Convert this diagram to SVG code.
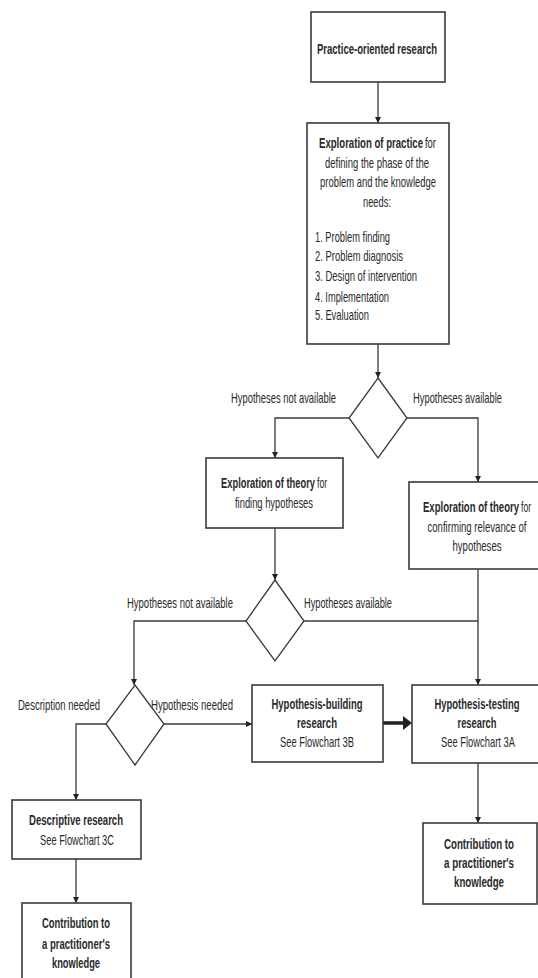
<svg xmlns="http://www.w3.org/2000/svg" width="538" height="978" viewBox="0 0 538 978">
<style>
.box{fill:#fff;stroke:#3a3a3a;stroke-width:1.6}
.dia{fill:#fff;stroke:#3a3a3a;stroke-width:1.3}
.ln{fill:none;stroke:#3a3a3a;stroke-width:1.3}
.thick{fill:none;stroke:#222;stroke-width:3.5}
text{font-family:"Liberation Sans",Arial,sans-serif;font-size:14.5px;fill:#2a2a2a}
.c{text-anchor:middle}
.b{font-weight:bold}
</style>
<defs>
<marker id="ah" viewBox="0 0 10 10" refX="10" refY="5" markerWidth="6" markerHeight="7" markerUnits="userSpaceOnUse" orient="auto"><path d="M0,0 L10,5 L0,10 z" fill="#222"/></marker>
</defs>
<g id="connectors">
<path class="ln" d="M378,82 V123" marker-end="url(#ah)"/>
<path class="ln" d="M378,344 V378" marker-end="url(#ah)"/>
<path class="ln" d="M349,418 H275 V458" marker-end="url(#ah)"/>
<path class="ln" d="M407,418 H478 V482" marker-end="url(#ah)"/>
<path class="ln" d="M275,528 V580" marker-end="url(#ah)"/>
<path class="ln" d="M478,569 V685" marker-end="url(#ah)"/>
<path class="ln" d="M303,621 H478"/>
<path class="ln" d="M246,621 H134 V685" marker-end="url(#ah)"/>
<path class="ln" d="M164,724 H252" marker-end="url(#ah)"/>
<path class="thick" d="M383,723 H405"/>
<path d="M403,716 L412,723 L403,730 z" fill="#222"/>
<path class="ln" d="M106,724 H76 V800" marker-end="url(#ah)"/>
<path class="ln" d="M76,859 V903" marker-end="url(#ah)"/>
<path class="ln" d="M478,763 V823" marker-end="url(#ah)"/>
<text x="231" y="403" textLength="105" lengthAdjust="spacingAndGlyphs">Hypotheses not available</text>
<text x="413" y="403" textLength="89" lengthAdjust="spacingAndGlyphs">Hypotheses available</text>
<text x="127" y="608" textLength="106" lengthAdjust="spacingAndGlyphs">Hypotheses not available</text>
<text x="304" y="608" textLength="88" lengthAdjust="spacingAndGlyphs">Hypotheses available</text>
<text x="18" y="710" textLength="82" lengthAdjust="spacingAndGlyphs">Description needed</text>
<text x="151" y="710" textLength="82" lengthAdjust="spacingAndGlyphs">Hypothesis needed</text>
</g>
<g id="start">
<rect class="box" x="311" y="12" width="134" height="70"/>
<text class="c b" x="377" y="54" textLength="120" lengthAdjust="spacingAndGlyphs">Practice-oriented research</text>
</g>
<g id="practice">
<rect class="box" x="307" y="123" width="142" height="221"/>
<text class="b" x="319" y="148" textLength="104" lengthAdjust="spacingAndGlyphs">Exploration of practice</text>
<text x="425" y="148" textLength="11" lengthAdjust="spacingAndGlyphs">for</text>
<text class="c" x="377" y="168" textLength="104" lengthAdjust="spacingAndGlyphs">defining the phase of the</text>
<text class="c" x="378" y="187" textLength="116" lengthAdjust="spacingAndGlyphs">problem and the knowledge</text>
<text class="c" x="377" y="207" textLength="28" lengthAdjust="spacingAndGlyphs">needs:</text>
<text x="315" y="242" textLength="75" lengthAdjust="spacingAndGlyphs">1. Problem finding</text>
<text x="315" y="261" textLength="88" lengthAdjust="spacingAndGlyphs">2. Problem diagnosis</text>
<text x="315" y="281" textLength="102" lengthAdjust="spacingAndGlyphs">3. Design of intervention</text>
<text x="315" y="302" textLength="74" lengthAdjust="spacingAndGlyphs">4. Implementation</text>
<text x="315" y="320" textLength="54" lengthAdjust="spacingAndGlyphs">5. Evaluation</text>
</g>
<g id="decision1">
<path class="dia" d="M378,378 L407,418 L378,458 L349,418 z"/>
</g>
<g id="theory-finding">
<rect class="box" x="206" y="458" width="137" height="70"/>
<text class="b" x="221" y="488" textLength="94" lengthAdjust="spacingAndGlyphs">Exploration of theory</text>
<text x="317" y="488" textLength="10" lengthAdjust="spacingAndGlyphs">for</text>
<text class="c" x="274" y="508" textLength="78" lengthAdjust="spacingAndGlyphs">finding hypotheses</text>
</g>
<g id="theory-confirming">
<rect class="box" x="409" y="482" width="131" height="87"/>
<text class="b" x="423" y="512" textLength="96" lengthAdjust="spacingAndGlyphs">Exploration of theory</text>
<text x="521" y="512" textLength="10" lengthAdjust="spacingAndGlyphs">for</text>
<text class="c" x="477" y="532" textLength="99" lengthAdjust="spacingAndGlyphs">confirming relevance of</text>
<text class="c" x="477" y="551" textLength="49" lengthAdjust="spacingAndGlyphs">hypotheses</text>
</g>
<g id="decision2">
<path class="dia" d="M275,580 L304,621 L275,661 L246,621 z"/>
</g>
<g id="decision3">
<path class="dia" d="M135,685 L164,724 L135,765 L106,724 z"/>
</g>
<g id="hypothesis-building">
<rect class="box" x="252" y="685" width="131" height="77"/>
<text class="c b" x="317" y="709" textLength="91" lengthAdjust="spacingAndGlyphs">Hypothesis-building</text>
<text class="c b" x="317" y="728" textLength="40" lengthAdjust="spacingAndGlyphs">research</text>
<text class="c" x="317" y="747" textLength="74" lengthAdjust="spacingAndGlyphs">See Flowchart 3B</text>
</g>
<g id="hypothesis-testing">
<rect class="box" x="412" y="685" width="128" height="78"/>
<text class="c b" x="477" y="709" textLength="85" lengthAdjust="spacingAndGlyphs">Hypothesis-testing</text>
<text class="c b" x="477" y="728" textLength="39" lengthAdjust="spacingAndGlyphs">research</text>
<text class="c" x="478" y="747" textLength="74" lengthAdjust="spacingAndGlyphs">See Flowchart 3A</text>
</g>
<g id="descriptive">
<rect class="box" x="12" y="800" width="129" height="59"/>
<text class="c b" x="76" y="825" textLength="94" lengthAdjust="spacingAndGlyphs">Descriptive research</text>
<text class="c" x="77" y="845" textLength="74" lengthAdjust="spacingAndGlyphs">See Flowchart 3C</text>
</g>
<g id="contribution-left">
<rect class="box" x="22" y="903" width="109" height="90"/>
<text class="c b" x="76" y="928" textLength="68" lengthAdjust="spacingAndGlyphs">Contribution to</text>
<text class="c b" x="76" y="949" textLength="68" lengthAdjust="spacingAndGlyphs">a practitioner's</text>
<text class="c b" x="76" y="968" textLength="48" lengthAdjust="spacingAndGlyphs">knowledge</text>
</g>
<g id="contribution-right">
<rect class="box" x="423" y="823" width="114" height="81"/>
<text class="c b" x="479" y="849" textLength="70" lengthAdjust="spacingAndGlyphs">Contribution to</text>
<text class="c b" x="479" y="868" textLength="70" lengthAdjust="spacingAndGlyphs">a practitioner's</text>
<text class="c b" x="479" y="887" textLength="50" lengthAdjust="spacingAndGlyphs">knowledge</text>
</g>
</svg>
